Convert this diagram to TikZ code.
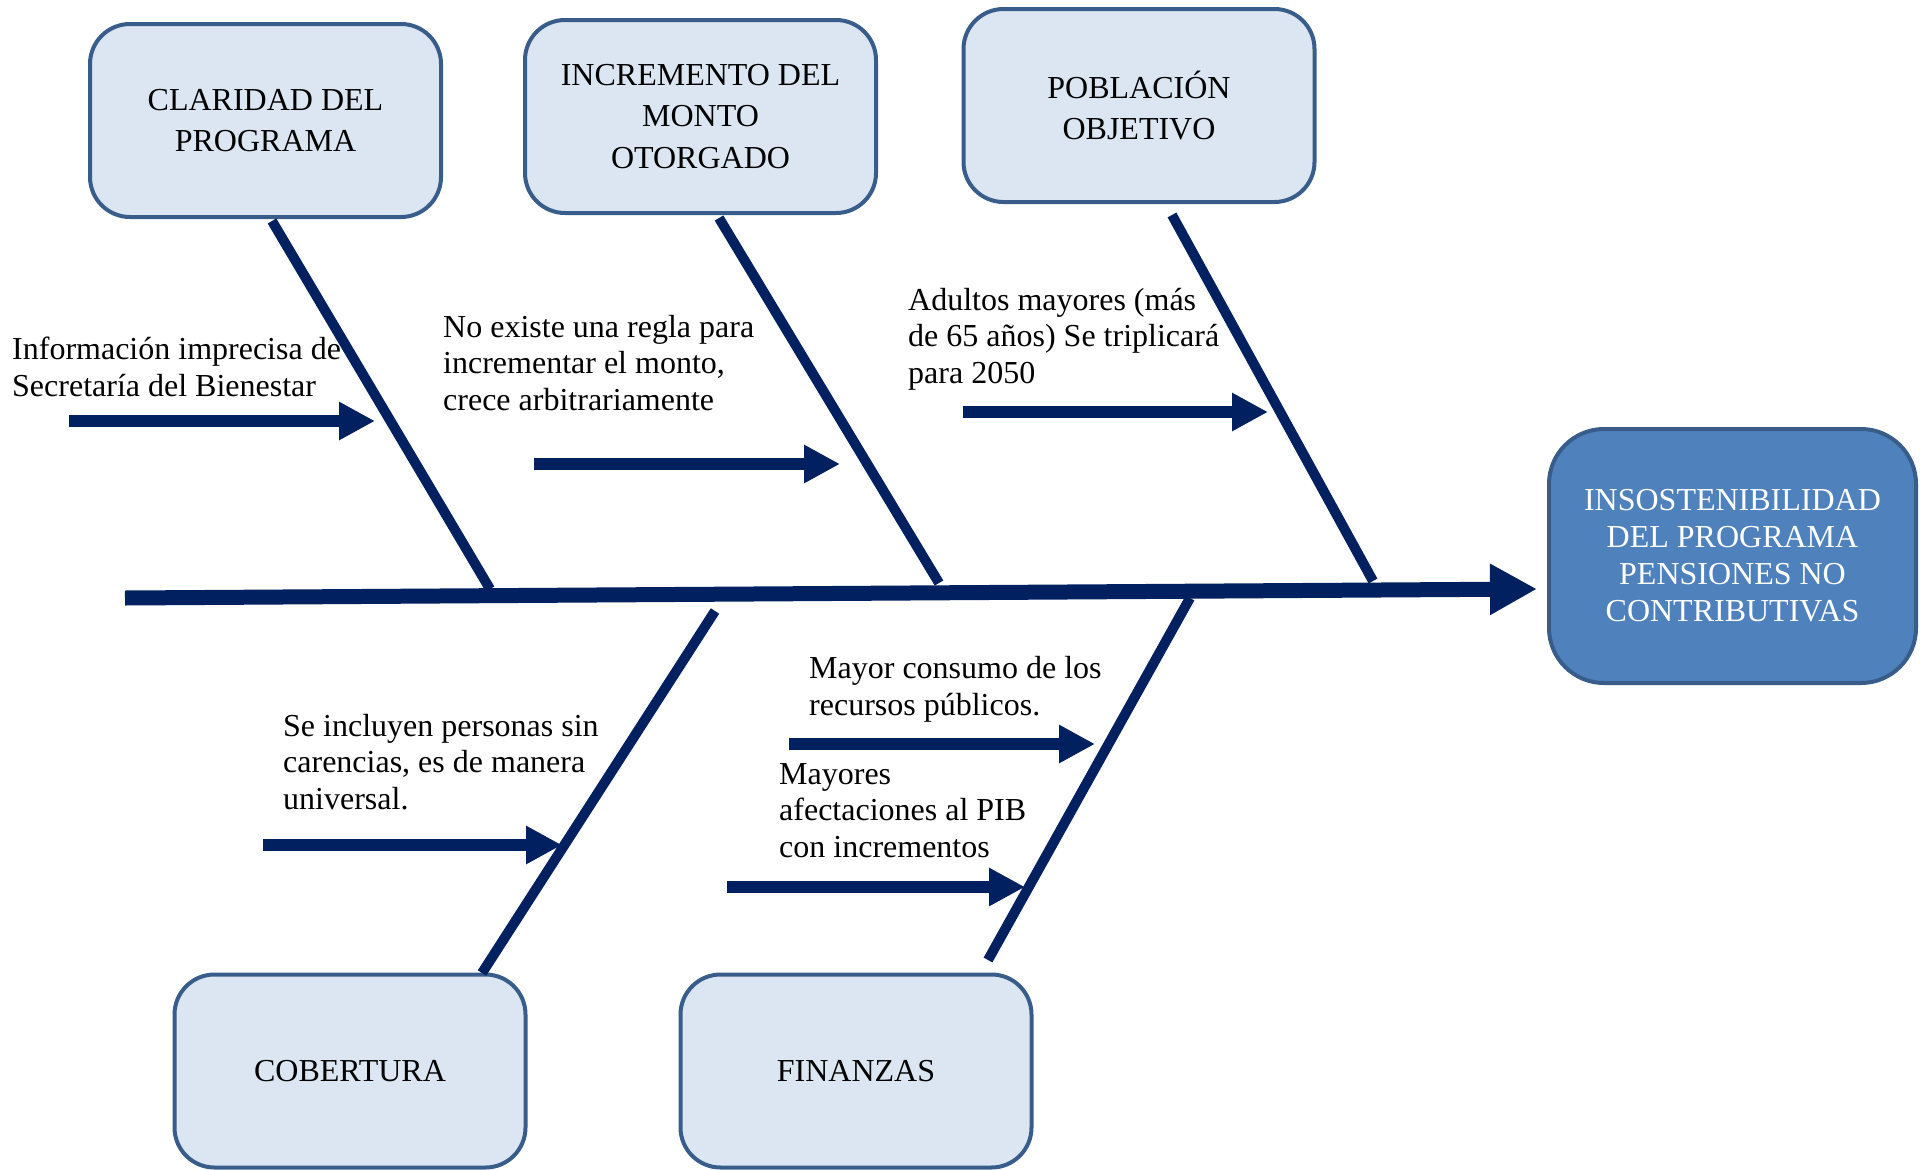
\documentclass[tikz,border=0pt]{standalone}
\usepackage{fontspec}
\setmainfont{Liberation Serif}
\usetikzlibrary{arrows.meta}
\definecolor{navy}{RGB}{0,32,96}
\definecolor{boxfill}{RGB}{220,230,242}
\definecolor{boxline}{RGB}{56,93,138}
\definecolor{effill}{RGB}{79,129,189}
\begin{document}
\begin{tikzpicture}[x=1pt,y=-1pt,
  causebox/.style={draw=boxline, fill=boxfill, line width=4pt, rounded corners=40pt,
    minimum width=351pt, minimum height=193pt, inner sep=0pt, align=center,
    font=\fontsize{32}{41.5}\selectfont},
  effectbox/.style={draw=boxline, fill=effill, line width=4pt, rounded corners=55pt,
    minimum width=367pt, minimum height=254pt, inner sep=0pt, align=center, text=white,
    font=\fontsize{32}{37}\selectfont},
  note/.style={anchor=base west, inner sep=0pt, align=left,
    font=\fontsize{32}{36.5}\selectfont},
  bone/.style={draw=navy, line width=10pt},
  spine/.style={draw=navy, line width=15pt, -{Triangle[length=47pt,width=48pt]}},
  subarrow/.style={draw=navy, line width=12pt, -{Triangle[length=36pt,width=36pt]}}
]
\path[use as bounding box] (0,0) rectangle (1923,1170);

% boxes
\node[causebox] (c1) at (265.5,120.5) {CLARIDAD DEL\\PROGRAMA};
\node[causebox] (c2) at (700.5,116.5) {INCREMENTO DEL\\MONTO\\OTORGADO};
\node[causebox] (c3) at (1139,105.5) {POBLACIÓN\\OBJETIVO};
\node[causebox] (c4) at (350,1071) {COBERTURA};
\node[causebox] (c5) at (856,1071) {FINANZAS};
\node[effectbox] (ef) at (1732.5,556) {INSOSTENIBILIDAD\\DEL PROGRAMA\\PENSIONES NO\\CONTRIBUTIVAS};

% bone coordinates
\coordinate (b1t) at (272,221);  \coordinate (b1b) at (490,589);
\coordinate (b2t) at (719,218);  \coordinate (b2b) at (939,583);
\coordinate (b3t) at (1172,215); \coordinate (b3b) at (1373,581);
\coordinate (b4t) at (715,611);  \coordinate (b4b) at (482,973);
\coordinate (b5t) at (1190,598); \coordinate (b5b) at (988,960);

\draw[bone] (b1t) -- (b1b);
\draw[bone] (b2t) -- (b2b);
\draw[bone] (b3t) -- (b3b);
\draw[bone] (b4t) -- (b4b);
\draw[bone] (b5t) -- (b5b);

% spine
\coordinate (sp0) at (125,598);
\coordinate (sp1) at (1537,589);
\draw[spine] (sp0) -- (sp1);

% sub-cause arrows
\coordinate (a1s) at (69,421);  \coordinate (a1e) at (375,421);
\coordinate (a2s) at (534,464); \coordinate (a2e) at (840,464);
\coordinate (a3s) at (963,412); \coordinate (a3e) at (1268,412);
\coordinate (a4s) at (263,845); \coordinate (a4e) at (562,845);
\coordinate (a5s) at (789,744); \coordinate (a5e) at (1095,744);
\coordinate (a6s) at (727,887); \coordinate (a6e) at (1025,887);
\draw[subarrow] (a1s) -- (a1e);
\draw[subarrow] (a2s) -- (a2e);
\draw[subarrow] (a3s) -- (a3e);
\draw[subarrow] (a4s) -- (a4e);
\draw[subarrow] (a5s) -- (a5e);
\draw[subarrow] (a6s) -- (a6e);

% notes (anchored at the baseline of their last line)
\node[note] (n1) at (12,396) {Información imprecisa de\\Secretaría del Bienestar};
\node[note] (n2) at (443,410) {No existe una regla para\\incrementar el monto,\\crece arbitrariamente};
\node[note] (n3) at (908,383) {Adultos mayores (más\\de 65 años) Se triplicará\\para 2050};
\node[note] (n4) at (283,809) {Se incluyen personas sin\\carencias, es de manera\\universal.};
\node[note] (n5) at (809,715) {Mayor consumo de los\\recursos públicos.};
\node[note] (n6) at (779,857) {Mayores\\afectaciones al PIB\\con incrementos};
\end{tikzpicture}
\end{document}
